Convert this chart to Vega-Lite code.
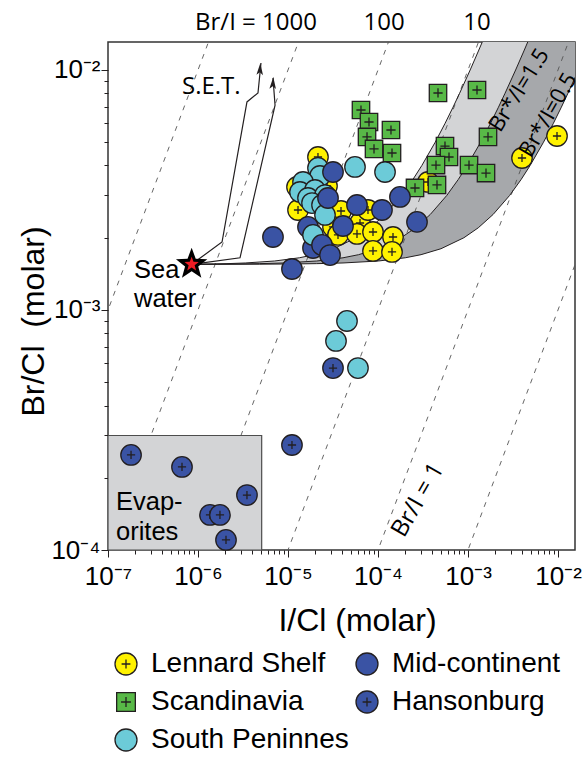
{
  "$schema": "https://vega.github.io/schema/vega-lite/v6.json",
  "width": 467,
  "height": 508,
  "autosize": {"type": "none"},
  "padding": {"left": 108, "top": 42, "right": 9, "bottom": 212},
  "background": "white",
  "config": {
    "view": {"stroke": "#333333", "strokeWidth": 1.5},
    "axis": {
      "labelFont": "Liberation Sans", "labelFontSize": 26, "labelColor": "#000000",
      "titleFont": "Liberation Sans", "titleFontSize": 32, "titleFontWeight": "normal", "titleColor": "#000000",
      "tickColor": "#231f20", "tickWidth": 1, "domain": false, "grid": false,
      "labelOverlap": false, "labelFlush": false, "labelBound": false
    }
  },
  "datasets": {
    "band": [
      {"brcl": 1.55e-3, "xl": 8.5e-7, "xm": 8.5e-7, "xr": 8.5e-7},
      {"brcl": 1.552e-3, "xl": 1.1e-6, "xm": 1.65e-6, "xr": 4.85e-6},
      {"brcl": 1.555e-3, "xl": 1.48e-6, "xm": 2.85e-6, "xr": 1.085e-5},
      {"brcl": 1.56e-3, "xl": 2.1e-6, "xm": 4.85e-6, "xr": 2.085e-5},
      {"brcl": 1.57e-3, "xl": 3.35e-6, "xm": 8.85e-6, "xr": 4.085e-5},
      {"brcl": 1.6e-3, "xl": 7.1e-6, "xm": 2.085e-5, "xr": 1.0085e-4},
      {"brcl": 1.65e-3, "xl": 1.335e-5, "xm": 4.085e-5, "xr": 2.0085e-4},
      {"brcl": 1.7e-3, "xl": 1.96e-5, "xm": 6.085e-5, "xr": 3.0085e-4},
      {"brcl": 1.8e-3, "xl": 3.21e-5, "xm": 1.0085e-4, "xr": 5.0085e-4},
      {"brcl": 2.0e-3, "xl": 5.71e-5, "xm": 1.8085e-4, "xr": 9.0085e-4},
      {"brcl": 2.2e-3, "xl": 8.21e-5, "xm": 2.6085e-4, "xr": 1.3e-3},
      {"brcl": 2.5e-3, "xl": 1.196e-4, "xm": 3.8085e-4, "xr": 1.9e-3},
      {"brcl": 3.0e-3, "xl": 1.821e-4, "xm": 5.8085e-4, "xr": 2.9e-3},
      {"brcl": 3.5e-3, "xl": 2.446e-4, "xm": 7.8085e-4, "xr": 3.9e-3},
      {"brcl": 4.0e-3, "xl": 3.071e-4, "xm": 9.8085e-4, "xr": 4.9e-3},
      {"brcl": 5.0e-3, "xl": 4.321e-4, "xm": 1.381e-3, "xr": 6.9e-3},
      {"brcl": 6.0e-3, "xl": 5.571e-4, "xm": 1.781e-3, "xr": 8.9e-3},
      {"brcl": 7.0e-3, "xl": 6.821e-4, "xm": 2.181e-3, "xr": 1.09e-2},
      {"brcl": 8.0e-3, "xl": 8.071e-4, "xm": 2.581e-3, "xr": 1.29e-2},
      {"brcl": 1.0e-2, "xl": 1.057e-3, "xm": 3.381e-3, "xr": 1.69e-2},
      {"brcl": 1.2e-2, "xl": 1.306e-3, "xm": 4.181e-3, "xr": 2.09e-2},
      {"brcl": 1.4e-2, "xl": 1.557e-3, "xm": 4.981e-3, "xr": 2.49e-2}
    ],
    "ratios": [
      {"r": "10000", "ic": 1e-9, "brcl": 1e-5}, {"r": "10000", "ic": 1e-1, "brcl": 1e3},
      {"r": "1000", "ic": 1e-9, "brcl": 1e-6}, {"r": "1000", "ic": 1e-1, "brcl": 1e2},
      {"r": "100", "ic": 1e-9, "brcl": 1e-7}, {"r": "100", "ic": 1e-1, "brcl": 1e1},
      {"r": "10", "ic": 1e-9, "brcl": 1e-8}, {"r": "10", "ic": 1e-1, "brcl": 1},
      {"r": "1", "ic": 1e-9, "brcl": 1e-9}, {"r": "1", "ic": 1e-1, "brcl": 1e-1},
      {"r": "0.1", "ic": 1e-9, "brcl": 1e-10}, {"r": "0.1", "ic": 1e-1, "brcl": 1e-2}
    ],
    "evap": [{"x1": 1e-7, "x2": 5.1e-6, "y1": 1e-4, "y2": 3.0e-4}],
    "set": [
      {"path": "A", "step": 0, "ic": 8.5e-7, "brcl": 1.55e-3},
      {"path": "A", "step": 1, "ic": 1.85e-6, "brcl": 1.92e-3},
      {"path": "A", "step": 2, "ic": 3.5e-6, "brcl": 7.36e-3},
      {"path": "A", "step": 3, "ic": 4.64e-6, "brcl": 8.02e-3},
      {"path": "A", "step": 4, "ic": 5.01e-6, "brcl": 1.069e-2},
      {"path": "B", "step": 0, "ic": 8.5e-7, "brcl": 1.55e-3},
      {"path": "B", "step": 1, "ic": 2.93e-6, "brcl": 1.65e-3},
      {"path": "B", "step": 2, "ic": 7.18e-6, "brcl": 7.14e-3},
      {"path": "B", "step": 3, "ic": 6.81e-6, "brcl": 9.27e-3}
    ],
    "heads": [
      {"ic": 4.89e-6, "brcl": 1.009e-2},
      {"ic": 6.81e-6, "brcl": 8.83e-3}
    ],
    "sea": [{"ic": 8.5e-7, "brcl": 1.55e-3}],
    "pts": [
      {"group": "Lennard Shelf", "ic": 2.153e-5, "brcl": 4.34e-3},
      {"group": "Lennard Shelf", "ic": 1.259e-5, "brcl": 3.255e-3},
      {"group": "Lennard Shelf", "ic": 1.292e-5, "brcl": 2.61e-3},
      {"group": "Lennard Shelf", "ic": 2.712e-5, "brcl": 3.286e-3},
      {"group": "Lennard Shelf", "ic": 3.881e-5, "brcl": 2.585e-3},
      {"group": "Lennard Shelf", "ic": 3.162e-5, "brcl": 2.218e-3},
      {"group": "Lennard Shelf", "ic": 3.594e-5, "brcl": 2.054e-3},
      {"group": "Lennard Shelf", "ic": 6.31e-5, "brcl": 2.304e-3},
      {"group": "Lennard Shelf", "ic": 5.843e-5, "brcl": 2.074e-3},
      {"group": "Lennard Shelf", "ic": 7.74e-5, "brcl": 2.61e-3},
      {"group": "Lennard Shelf", "ic": 8.8e-5, "brcl": 2.113e-3},
      {"group": "Lennard Shelf", "ic": 1.468e-4, "brcl": 2.014e-3},
      {"group": "Lennard Shelf", "ic": 8.8e-5, "brcl": 1.762e-3},
      {"group": "Lennard Shelf", "ic": 1.431e-4, "brcl": 1.745e-3},
      {"group": "Lennard Shelf", "ic": 3.594e-4, "brcl": 3.415e-3},
      {"group": "Lennard Shelf", "ic": 3.981e-3, "brcl": 4.299e-3},
      {"group": "Lennard Shelf", "ic": 9.75e-3, "brcl": 5.309e-3},
      {"group": "Scandinavia", "ic": 4.642e-4, "brcl": 8.02e-3},
      {"group": "Scandinavia", "ic": 1.259e-3, "brcl": 8.254e-3},
      {"group": "Scandinavia", "ic": 6.47e-5, "brcl": 6.813e-3},
      {"group": "Scandinavia", "ic": 7.943e-5, "brcl": 6.072e-3},
      {"group": "Scandinavia", "ic": 1.394e-4, "brcl": 5.623e-3},
      {"group": "Scandinavia", "ic": 7.55e-5, "brcl": 5.26e-3},
      {"group": "Scandinavia", "ic": 9.03e-5, "brcl": 4.688e-3},
      {"group": "Scandinavia", "ic": 1.431e-4, "brcl": 4.51e-3},
      {"group": "Scandinavia", "ic": 5.55e-4, "brcl": 4.82e-3},
      {"group": "Scandinavia", "ic": 6.15e-4, "brcl": 4.34e-3},
      {"group": "Scandinavia", "ic": 4.41e-4, "brcl": 4.018e-3},
      {"group": "Scandinavia", "ic": 1.668e-3, "brcl": 5.26e-3},
      {"group": "Scandinavia", "ic": 1.026e-3, "brcl": 4.018e-3},
      {"group": "Scandinavia", "ic": 1.585e-3, "brcl": 3.72e-3},
      {"group": "Scandinavia", "ic": 2.577e-4, "brcl": 3.224e-3},
      {"group": "Scandinavia", "ic": 4.524e-4, "brcl": 3.319e-3},
      {"group": "Mid-continent", "ic": 5.843e-5, "brcl": 2.738e-3},
      {"group": "Mid-continent", "ic": 1.107e-4, "brcl": 2.61e-3},
      {"group": "Mid-continent", "ic": 1.754e-4, "brcl": 2.958e-3},
      {"group": "Mid-continent", "ic": 2.712e-4, "brcl": 2.328e-3},
      {"group": "Mid-continent", "ic": 4.084e-5, "brcl": 2.239e-3},
      {"group": "Mid-continent", "ic": 1.668e-5, "brcl": 2.218e-3},
      {"group": "Mid-continent", "ic": 1.896e-5, "brcl": 1.813e-3},
      {"group": "Mid-continent", "ic": 6.81e-6, "brcl": 2.014e-3},
      {"group": "Mid-continent", "ic": 1.107e-5, "brcl": 1.482e-3},
      {"group": "South Peninnes", "ic": 2.153e-5, "brcl": 3.906e-3},
      {"group": "South Peninnes", "ic": 2.27e-5, "brcl": 3.617e-3},
      {"group": "South Peninnes", "ic": 5.55e-5, "brcl": 3.945e-3},
      {"group": "South Peninnes", "ic": 1.197e-4, "brcl": 3.758e-3},
      {"group": "South Peninnes", "ic": 1.468e-5, "brcl": 3.415e-3},
      {"group": "South Peninnes", "ic": 1.359e-5, "brcl": 3.102e-3},
      {"group": "South Peninnes", "ic": 1.995e-5, "brcl": 3.162e-3},
      {"group": "South Peninnes", "ic": 1.668e-5, "brcl": 2.929e-3},
      {"group": "South Peninnes", "ic": 2.577e-5, "brcl": 3.013e-3},
      {"group": "South Peninnes", "ic": 1.848e-5, "brcl": 2.79e-3},
      {"group": "South Peninnes", "ic": 2.388e-5, "brcl": 2.738e-3},
      {"group": "South Peninnes", "ic": 2.577e-5, "brcl": 2.489e-3},
      {"group": "South Peninnes", "ic": 1.896e-5, "brcl": 2.054e-3},
      {"group": "South Peninnes", "ic": 4.524e-5, "brcl": 9.0e-4},
      {"group": "South Peninnes", "ic": 3.415e-5, "brcl": 7.43e-4},
      {"group": "South Peninnes", "ic": 5.99e-5, "brcl": 5.73e-4},
      {"group": "Mid-continent", "ic": 2.388e-5, "brcl": 1.866e-3},
      {"group": "Mid-continent", "ic": 2.929e-5, "brcl": 1.694e-3},
      {"group": "Mid-continent", "ic": 3.162e-5, "brcl": 3.758e-3},
      {"group": "Mid-continent", "ic": 2.783e-5, "brcl": 2.929e-3},
      {"group": "Hansonburg", "ic": 1.803e-7, "brcl": 2.489e-4},
      {"group": "Hansonburg", "ic": 6.64e-7, "brcl": 2.218e-4},
      {"group": "Hansonburg", "ic": 3.5e-6, "brcl": 1.694e-4},
      {"group": "Hansonburg", "ic": 1.359e-6, "brcl": 1.4e-4},
      {"group": "Hansonburg", "ic": 1.754e-6, "brcl": 1.4e-4},
      {"group": "Hansonburg", "ic": 2.047e-6, "brcl": 1.101e-4},
      {"group": "Hansonburg", "ic": 1.107e-5, "brcl": 2.738e-4},
      {"group": "Hansonburg", "ic": 3.162e-5, "brcl": 5.73e-4}
    ],
    "notes": [
      {"t": "S.E.T.", "ic": 6.64e-7, "brcl": 8.49e-3}
    ],
    "seatext": [{"t": "Sea\nwater", "ic": 1.945e-7, "brcl": 1.47e-3}],
    "evaptext": [{"t": "Evap-\norites", "ic": 1.227e-7, "brcl": 1.585e-4}],
    "toplabels": [
      {"t": "Br/I = 1000", "ic": 4.41e-6, "brcl": 1.57e-2},
      {"t": "100", "ic": 1.167e-4, "brcl": 1.57e-2},
      {"t": "10", "ic": 1.259e-3, "brcl": 1.57e-2}
    ],
    "lab1": [{"t": "Br/I = 1", "ic": 2.783e-4, "brcl": 1.614e-4}],
    "lab15": [{"t": "Br*/I=1.5", "ic": 3.69e-3, "brcl": 8.25e-3}],
    "lab05": [{"t": "Br*/I=0.5", "ic": 7.74e-3, "brcl": 6.49e-3}]
  },
  "layer": [
    {
      "data": {"name": "band"},
      "mark": {"type": "area", "orient": "horizontal", "fill": "#d3d4d6", "clip": true},
      "encoding": {
        "y": {"field": "brcl", "type": "quantitative", "scale": {"type": "log", "domain": [1e-4, 1.308e-2], "nice": false},
          "axis": {
            "title": "Br/Cl\u00a0 (molar)",
            "values": [1e-4, 2e-4, 3e-4, 4e-4, 5e-4, 6e-4, 7e-4, 8e-4, 9e-4, 1e-3, 2e-3, 3e-3, 4e-3, 5e-3, 6e-3, 7e-3, 8e-3, 9e-3, 1e-2],
            "labelExpr": "abs(log(datum.value)/LN10 - round(log(datum.value)/LN10)) < 0.001 ? '10' + replace(replace(replace(replace(''+round(log(datum.value)/LN10),'-','⁻'),'2','²'),'3','³'),'4','⁴') : ''",
            "tickSize": {"condition": {"test": "abs(log(datum.value)/LN10 - round(log(datum.value)/LN10)) < 0.001", "value": 7}, "value": 4},
            "labelPadding": 1,
            "titleAngle": -90, "titleX": -75, "titleY": 279, "titleAlign": "center", "titleBaseline": "middle"
          }
        },
        "x": {"field": "xl", "type": "quantitative", "scale": {"type": "log", "domain": [1e-7, 1.545e-2], "nice": false},
          "axis": {
            "title": "I/Cl (molar)",
            "values": [1e-7, 2e-7, 3e-7, 4e-7, 5e-7, 6e-7, 7e-7, 8e-7, 9e-7, 1e-6, 2e-6, 3e-6, 4e-6, 5e-6, 6e-6, 7e-6, 8e-6, 9e-6, 1e-5, 2e-5, 3e-5, 4e-5, 5e-5, 6e-5, 7e-5, 8e-5, 9e-5, 1e-4, 2e-4, 3e-4, 4e-4, 5e-4, 6e-4, 7e-4, 8e-4, 9e-4, 1e-3, 2e-3, 3e-3, 4e-3, 5e-3, 6e-3, 7e-3, 8e-3, 9e-3, 1e-2],
            "labelExpr": "abs(log(datum.value)/LN10 - round(log(datum.value)/LN10)) < 0.001 ? '10' + replace(replace(replace(replace(replace(replace(replace(''+round(log(datum.value)/LN10),'-','⁻'),'2','²'),'3','³'),'4','⁴'),'5','⁵'),'6','⁶'),'7','⁷') : ''",
            "tickSize": {"condition": {"test": "abs(log(datum.value)/LN10 - round(log(datum.value)/LN10)) < 0.001", "value": 7}, "value": 4},
            "labelPadding": 6,
            "titleX": 249, "titleY": 80, "titleAlign": "center", "titleBaseline": "alphabetic"
          }
        },
        "x2": {"field": "xm"}
      }
    },
    {
      "data": {"name": "band"},
      "mark": {"type": "area", "orient": "horizontal", "fill": "#a6a8ab", "clip": true},
      "encoding": {
        "y": {"field": "brcl", "type": "quantitative", "scale": {"type": "log", "domain": [1e-4, 1.308e-2], "nice": false}},
        "x": {"field": "xm", "type": "quantitative", "scale": {"type": "log", "domain": [1e-7, 1.545e-2], "nice": false}},
        "x2": {"field": "xr"}
      }
    },
    {
      "data": {"name": "ratios"},
      "mark": {"type": "line", "stroke": "#555555", "strokeWidth": 0.9, "strokeDash": [5, 6], "clip": true},
      "encoding": {
        "x": {"field": "ic", "type": "quantitative", "scale": {"type": "log", "domain": [1e-7, 1.545e-2], "nice": false}},
        "y": {"field": "brcl", "type": "quantitative", "scale": {"type": "log", "domain": [1e-4, 1.308e-2], "nice": false}},
        "detail": {"field": "r", "type": "nominal"}
      }
    },
    {
      "data": {"name": "band"},
      "transform": [{"fold": ["xl", "xm", "xr"], "as": ["curve", "xv"]}],
      "mark": {"type": "line", "stroke": "#231f20", "strokeWidth": 1, "clip": true},
      "encoding": {
        "x": {"field": "xv", "type": "quantitative", "scale": {"type": "log", "domain": [1e-7, 1.545e-2], "nice": false}},
        "y": {"field": "brcl", "type": "quantitative", "scale": {"type": "log", "domain": [1e-4, 1.308e-2], "nice": false}},
        "detail": {"field": "curve", "type": "nominal"},
        "order": {"field": "brcl", "type": "quantitative"}
      }
    },
    {
      "data": {"name": "evap"},
      "mark": {"type": "rect", "fill": "#d3d4d6", "stroke": "#4d4d4d", "strokeWidth": 1.2, "clip": true},
      "encoding": {
        "x": {"field": "x1", "type": "quantitative", "scale": {"type": "log", "domain": [1e-7, 1.545e-2], "nice": false}},
        "x2": {"field": "x2"},
        "y": {"field": "y1", "type": "quantitative", "scale": {"type": "log", "domain": [1e-4, 1.308e-2], "nice": false}},
        "y2": {"field": "y2"}
      }
    },
    {
      "data": {"name": "set"},
      "mark": {"type": "line", "stroke": "#231f20", "strokeWidth": 1.2},
      "encoding": {
        "x": {"field": "ic", "type": "quantitative", "scale": {"type": "log", "domain": [1e-7, 1.545e-2], "nice": false}},
        "y": {"field": "brcl", "type": "quantitative", "scale": {"type": "log", "domain": [1e-4, 1.308e-2], "nice": false}},
        "detail": {"field": "path", "type": "nominal"},
        "order": {"field": "step", "type": "quantitative"}
      }
    },
    {
      "data": {"name": "heads"},
      "mark": {"type": "point", "shape": "M0,-1L0.55,1L0,0.55L-0.55,1Z", "filled": true, "fill": "#231f20", "size": 144, "opacity": 1, "angle": 3},
      "encoding": {
        "x": {"field": "ic", "type": "quantitative", "scale": {"type": "log", "domain": [1e-7, 1.545e-2], "nice": false}},
        "y": {"field": "brcl", "type": "quantitative", "scale": {"type": "log", "domain": [1e-4, 1.308e-2], "nice": false}}
      }
    },
    {
      "data": {"name": "pts"},
      "mark": {"type": "point", "filled": true, "size": 420, "strokeWidth": 1.3, "opacity": 1},
      "encoding": {
        "x": {"field": "ic", "type": "quantitative", "scale": {"type": "log", "domain": [1e-7, 1.545e-2], "nice": false}},
        "y": {"field": "brcl", "type": "quantitative", "scale": {"type": "log", "domain": [1e-4, 1.308e-2], "nice": false}},
        "fill": {"field": "group", "type": "nominal",
          "scale": {"domain": ["Lennard Shelf", "Scandinavia", "South Peninnes", "Mid-continent", "Hansonburg"],
                    "range": ["#fff200", "#58b947", "#6ccbd8", "#3a53a4", "#3a53a4"]},
          "legend": {"orient": "none", "legendX": 4, "legendY": 608, "columns": 2, "title": null, "padding": 0,
                     "labelFont": "Liberation Sans", "labelFontSize": 28, "labelColor": "#000000", "labelLimit": 400,
                     "symbolSize": 484, "symbolStrokeColor": "#231f20", "symbolStrokeWidth": 1.3,
                     "rowPadding": 10, "columnPadding": 4, "labelOffset": 11}},
        "stroke": {"field": "group", "type": "nominal",
          "scale": {"domain": ["Lennard Shelf", "Scandinavia", "South Peninnes", "Mid-continent", "Hansonburg"],
                    "range": ["#231f20", "#231f20", "#231f20", "#231f20", "#231f20"]},
          "legend": {"orient": "none", "legendX": 4, "legendY": 608, "columns": 2, "title": null, "padding": 0,
                     "labelFont": "Liberation Sans", "labelFontSize": 28, "labelColor": "#000000", "labelLimit": 400,
                     "symbolSize": 484, "symbolStrokeColor": "#231f20", "symbolStrokeWidth": 1.3,
                     "rowPadding": 10, "columnPadding": 4, "labelOffset": 11}},
        "shape": {"field": "group", "type": "nominal",
          "scale": {"domain": ["Lennard Shelf", "Scandinavia", "South Peninnes", "Mid-continent", "Hansonburg"],
                    "range": ["M-1,0A1,1,0,1,1,1,0A1,1,0,1,1,-1,0ZM-0.4,0L0.4,0M0,-0.4L0,0.4", "M-0.85,-0.85L0.85,-0.85L0.85,0.85L-0.85,0.85ZM-0.45,0L0.45,0M0,-0.45L0,0.45", "circle", "circle", "M-1,0A1,1,0,1,1,1,0A1,1,0,1,1,-1,0ZM-0.4,0L0.4,0M0,-0.4L0,0.4"]},
          "legend": {"orient": "none", "legendX": 4, "legendY": 608, "columns": 2, "title": null, "padding": 0,
                     "labelFont": "Liberation Sans", "labelFontSize": 28, "labelColor": "#000000", "labelLimit": 400,
                     "symbolSize": 484, "symbolStrokeColor": "#231f20", "symbolStrokeWidth": 1.3,
                     "rowPadding": 10, "columnPadding": 4, "labelOffset": 11}}
      }
    },
    {
      "data": {"name": "sea"},
      "mark": {"type": "point", "shape": "M0,-1L0.247,-0.34L0.951,-0.309L0.4,0.13L0.588,0.809L0,0.42L-0.588,0.809L-0.4,0.13L-0.951,-0.309L-0.247,-0.34Z", "filled": true, "fill": "#000000", "size": 1089, "opacity": 1},
      "encoding": {
        "x": {"field": "ic", "type": "quantitative", "scale": {"type": "log", "domain": [1e-7, 1.545e-2], "nice": false}},
        "y": {"field": "brcl", "type": "quantitative", "scale": {"type": "log", "domain": [1e-4, 1.308e-2], "nice": false}}
      }
    },
    {
      "data": {"name": "sea"},
      "mark": {"type": "point", "shape": "M0,-1L0.247,-0.34L0.951,-0.309L0.4,0.13L0.588,0.809L0,0.42L-0.588,0.809L-0.4,0.13L-0.951,-0.309L-0.247,-0.34Z", "filled": true, "fill": "#ed1c24", "size": 225, "opacity": 1},
      "encoding": {
        "x": {"field": "ic", "type": "quantitative", "scale": {"type": "log", "domain": [1e-7, 1.545e-2], "nice": false}},
        "y": {"field": "brcl", "type": "quantitative", "scale": {"type": "log", "domain": [1e-4, 1.308e-2], "nice": false}}
      }
    },
    {
      "data": {"name": "notes"},
      "mark": {"type": "text", "font": "Open Sans", "fontSize": 24, "align": "left", "baseline": "middle", "color": "#000000"},
      "encoding": {
        "x": {"field": "ic", "type": "quantitative", "scale": {"type": "log", "domain": [1e-7, 1.545e-2], "nice": false}},
        "y": {"field": "brcl", "type": "quantitative", "scale": {"type": "log", "domain": [1e-4, 1.308e-2], "nice": false}},
        "text": {"field": "t"}
      }
    },
    {
      "data": {"name": "seatext"},
      "mark": {"type": "text", "font": "Liberation Sans", "fontSize": 25.5, "align": "left", "baseline": "middle", "lineBreak": "\n", "lineHeight": 29, "color": "#000000"},
      "encoding": {
        "x": {"field": "ic", "type": "quantitative", "scale": {"type": "log", "domain": [1e-7, 1.545e-2], "nice": false}},
        "y": {"field": "brcl", "type": "quantitative", "scale": {"type": "log", "domain": [1e-4, 1.308e-2], "nice": false}},
        "text": {"field": "t"}
      }
    },
    {
      "data": {"name": "evaptext"},
      "mark": {"type": "text", "font": "Liberation Sans", "fontSize": 25.5, "align": "left", "baseline": "middle", "lineBreak": "\n", "lineHeight": 30, "color": "#000000"},
      "encoding": {
        "x": {"field": "ic", "type": "quantitative", "scale": {"type": "log", "domain": [1e-7, 1.545e-2], "nice": false}},
        "y": {"field": "brcl", "type": "quantitative", "scale": {"type": "log", "domain": [1e-4, 1.308e-2], "nice": false}},
        "text": {"field": "t"}
      }
    },
    {
      "data": {"name": "toplabels"},
      "mark": {"type": "text", "font": "Open Sans", "fontSize": 24, "align": "center", "baseline": "middle", "color": "#000000"},
      "encoding": {
        "x": {"field": "ic", "type": "quantitative", "scale": {"type": "log", "domain": [1e-7, 1.545e-2], "nice": false}},
        "y": {"field": "brcl", "type": "quantitative", "scale": {"type": "log", "domain": [1e-4, 1.308e-2], "nice": false}},
        "text": {"field": "t"}
      }
    },
    {
      "data": {"name": "lab1"},
      "mark": {"type": "text", "font": "Open Sans", "fontSize": 24, "align": "center", "baseline": "middle", "angle": -60, "color": "#000000"},
      "encoding": {
        "x": {"field": "ic", "type": "quantitative", "scale": {"type": "log", "domain": [1e-7, 1.545e-2], "nice": false}},
        "y": {"field": "brcl", "type": "quantitative", "scale": {"type": "log", "domain": [1e-4, 1.308e-2], "nice": false}},
        "text": {"field": "t"}
      }
    },
    {
      "data": {"name": "lab15"},
      "mark": {"type": "text", "font": "Open Sans", "fontSize": 22, "align": "center", "baseline": "middle", "angle": -58, "color": "#000000"},
      "encoding": {
        "x": {"field": "ic", "type": "quantitative", "scale": {"type": "log", "domain": [1e-7, 1.545e-2], "nice": false}},
        "y": {"field": "brcl", "type": "quantitative", "scale": {"type": "log", "domain": [1e-4, 1.308e-2], "nice": false}},
        "text": {"field": "t"}
      }
    },
    {
      "data": {"name": "lab05"},
      "mark": {"type": "text", "font": "Open Sans", "fontSize": 22, "align": "center", "baseline": "middle", "angle": -60, "color": "#000000"},
      "encoding": {
        "x": {"field": "ic", "type": "quantitative", "scale": {"type": "log", "domain": [1e-7, 1.545e-2], "nice": false}},
        "y": {"field": "brcl", "type": "quantitative", "scale": {"type": "log", "domain": [1e-4, 1.308e-2], "nice": false}},
        "text": {"field": "t"}
      }
    }
  ]
}
